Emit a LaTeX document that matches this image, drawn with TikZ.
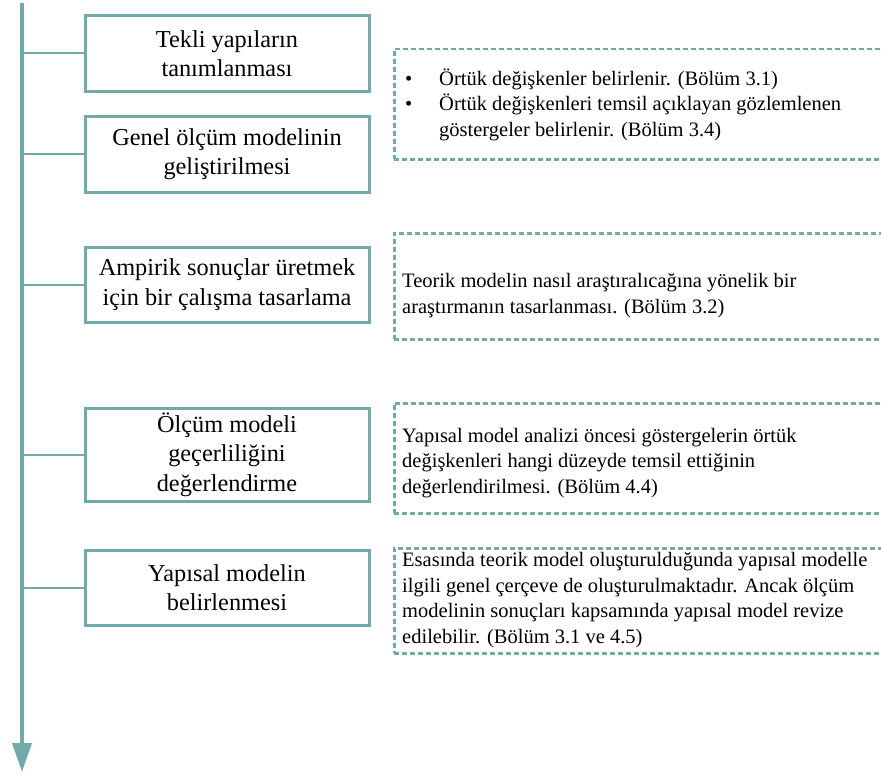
\documentclass[tikz,border=0pt]{standalone}
\usepackage{fontspec}
\setmainfont{Liberation Serif}
\usetikzlibrary{arrows.meta}
\definecolor{tealline}{RGB}{113,170,171}
\begin{document}
\begin{tikzpicture}[x=1pt,y=-1pt,
  stepbox/.style={draw=tealline, line width=3pt, fill=white, minimum width=284pt,
    minimum height=75pt, align=center, inner sep=0pt,
    font=\fontsize{24.3}{29.5}\selectfont},
  notebox/.style={draw=tealline, line width=2.5pt, dash pattern=on 5pt off 3pt,
    anchor=north west, minimum width=540pt, inner sep=0pt},
  notetext/.style={anchor=base west, align=left, inner sep=0pt,
    font=\fontsize{20.5}{25.5}\selectfont},
  link/.style={draw=tealline, line width=2pt},
  spine/.style={draw=tealline, line width=4pt, -{Triangle[width=19pt,length=29pt]}}]
\useasboundingbox (0,0) rectangle (881,776);
\clip (0,0) rectangle (881,776);

% timeline
\coordinate (top) at (22,3);
\coordinate (bottom) at (22,772);
\draw[spine] (top) -- (bottom);

% process steps
\node[stepbox] (s1) at (227,53.5) {Tekli yapıların\\tanımlanması};
\node[stepbox, minimum height=76pt] (s2) at (227,154) {Genel ölçüm modelinin\\geliştirilmesi};
\node[stepbox] (s3) at (227,284.5) {Ampirik sonuçlar üretmek\\için bir çalışma tasarlama};
\node[stepbox, minimum height=93pt] (s4) at (227,454.5) {Ölçüm modeli\\geçerliliğini\\değerlendirme};
\node[stepbox] (s5) at (227,587.5) {Yapısal modelin\\belirlenmesi};

\foreach \s in {s1,s2,s3,s4,s5}
  \draw[link] (\s.west -| top) -- (\s.west);

% explanatory notes (text anchored at the baseline of its last line)
\node[notebox, minimum height=110pt] (n1) at (393,48) {};
\node[notetext] (t1) at (439,136)
  {\llap{\textbullet\hspace{27pt}}Örtük değişkenler belirlenir. (Bölüm 3.1)\\
   \llap{\textbullet\hspace{27pt}}Örtük değişkenleri temsil açıklayan gözlemlenen\\
   göstergeler belirlenir. (Bölüm 3.4)};

\node[notebox, minimum height=106pt] (n2) at (393,232) {};
\node[notetext] (t2) at (402,313)
  {Teorik modelin nasıl araştıralıcağına yönelik bir\\
   araştırmanın tasarlanması. (Bölüm 3.2)};

\node[notebox, minimum height=110pt] (n3) at (393,402) {};
\node[notetext] (t3) at (402,493)
  {Yapısal model analizi öncesi göstergelerin örtük\\
   değişkenleri hangi düzeyde temsil ettiğinin\\
   değerlendirilmesi. (Bölüm 4.4)};

\node[notebox, minimum height=105pt] (n4) at (393,547) {};
\node[notetext] (t4) at (402,643)
  {Esasında teorik model oluşturulduğunda yapısal modelle\\
   ilgili genel çerçeve de oluşturulmaktadır. Ancak ölçüm\\
   modelinin sonuçları kapsamında yapısal model revize\\
   edilebilir. (Bölüm 3.1 ve 4.5)};
\end{tikzpicture}
\end{document}
